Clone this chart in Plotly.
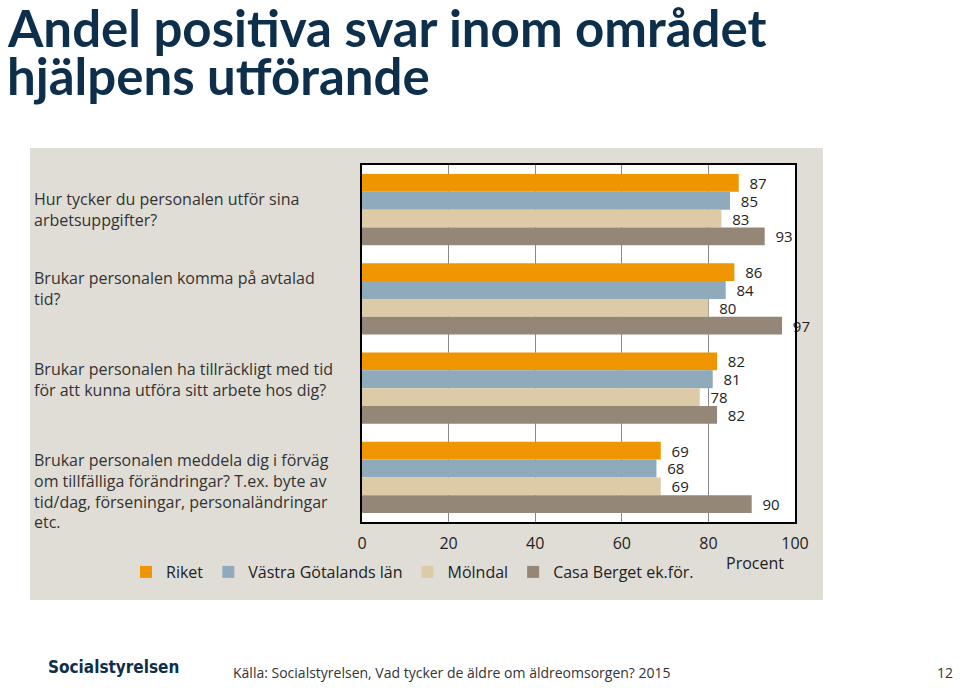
import plotly.graph_objects as go

categories = [
    "Hur tycker du personalen utför sina<br>arbetsuppgifter?",
    "Brukar personalen komma på avtalad<br>tid?",
    "Brukar personalen ha tillräckligt med tid<br>för att kunna utföra sitt arbete hos dig?",
    "Brukar personalen meddela dig i förväg<br>om tillfälliga förändringar? T.ex. byte av<br>tid/dag, förseningar, personaländringar<br>etc.",
]
series_names = ["Riket", "Västra Götalands län", "Mölndal", "Casa Berget ek.för."]
riket = [87, 86, 82, 69]
vastra_gotaland = [85, 84, 81, 68]
molndal = [83, 80, 78, 69]
casa_berget = [93, 97, 82, 90]
x_ticks = [0, 20, 40, 60, 80, 100]

values = [riket, vastra_gotaland, molndal, casa_berget]
colors = ["#EE9500", "#8FAABA", "#DCCBA6", "#958777"]
label_shift = [0, 10, 9, -14]

FONT = "Open Sans"
TXT = "#222222"
FS = 16

fig = go.Figure()
for name, vals, col in zip(series_names, values, colors):
    fig.add_trace(go.Bar(
        y=categories, x=vals, name=name, orientation="h",
        marker=dict(color=col, line=dict(width=0)),
        text=vals, texttemplate="\u00a0\u00a0%{x}", textposition="outside",
        textfont=dict(family=FONT, size=15, color=TXT),
        constraintext="none", cliponaxis=False,
    ))

W, H = 960, 688
L, R, T, B = 362, 795, 165, 522
pw, ph = R - L, B - T

def px(x):
    return (x - L) / pw

def py(y):
    return (B - y) / ph

shapes = [
    dict(type="rect", xref="paper", yref="paper", x0=px(30), x1=px(823), y0=py(600), y1=py(148),
         fillcolor="#E0DDD6", line=dict(width=0), layer="below"),
    dict(type="rect", xref="paper", yref="paper", x0=0, x1=1, y0=0, y1=1,
         fillcolor="white", line=dict(width=0), layer="below"),
]

annotations = []
for cat, sh in zip(categories, label_shift):
    annotations.append(dict(xref="paper", yref="y", x=px(32), y=cat, xanchor="left", yanchor="middle",
                            align="left", text=cat, showarrow=False, yshift=sh,
                            font=dict(family=FONT, size=FS, color="#333333")))
annotations += [
    dict(xref="paper", yref="paper", x=px(5), y=py(27), xanchor="left", yanchor="middle",
         text="<b>Andel positiva svar inom området</b>", showarrow=False,
         font=dict(family="Lato", size=51, color="#0E2F4B")),
    dict(xref="paper", yref="paper", x=px(5), y=py(75), xanchor="left", yanchor="middle",
         text="<b>hjälpens utförande</b>", showarrow=False,
         font=dict(family="Lato", size=51, color="#0E2F4B")),
    dict(xref="paper", yref="paper", x=px(755), y=py(563), xanchor="center", yanchor="middle",
         text="Procent", showarrow=False, font=dict(family=FONT, size=FS, color=TXT)),
    dict(xref="paper", yref="paper", x=px(46), y=py(667), xanchor="left", yanchor="middle",
         text="<b>Socialstyrelsen</b>", showarrow=False,
         font=dict(family="DejaVu Sans Condensed", size=17, color="#0E2F4B")),
    dict(xref="paper", yref="paper", x=px(231), y=py(672), xanchor="left", yanchor="middle",
         text="Källa: Socialstyrelsen, Vad tycker de äldre om äldreomsorgen? 2015", showarrow=False,
         font=dict(family=FONT, size=14, color="#333333")),
    dict(xref="paper", yref="paper", x=px(955), y=py(672), xanchor="right", yanchor="middle",
         text="12", showarrow=False, font=dict(family=FONT, size=14, color="#333333")),
]

fig.update_layout(
    width=W, height=H,
    margin=dict(l=L, r=W - R, t=T, b=H - B),
    paper_bgcolor="white", plot_bgcolor="white",
    barmode="group", bargap=0.2, bargroupgap=0,
    font=dict(family=FONT, size=FS, color=TXT),
    showlegend=True,
    legend=dict(orientation="h", x=px(126), y=py(572), xanchor="left", yanchor="middle",
                bgcolor="rgba(0,0,0,0)", font=dict(family=FONT, size=FS, color=TXT),
                traceorder="normal"),
    xaxis=dict(range=[0, 100], tickvals=x_ticks, showgrid=True, gridcolor="#8A8A8A", gridwidth=1,
               showline=True, linecolor="black", linewidth=2, mirror=True, zeroline=False,
               ticks="", ticklabelstandoff=6, tickfont=dict(family=FONT, size=FS, color=TXT),
               fixedrange=True),
    yaxis=dict(autorange="reversed", showticklabels=False, showgrid=False,
               showline=True, linecolor="black", linewidth=2, mirror=True, ticks="",
               fixedrange=True),
    shapes=shapes, annotations=annotations,
)

fig.write_html("out.html", config={"displayModeBar": False},
               post_script="document.body.style.margin='0';document.body.style.overflow='hidden';")
